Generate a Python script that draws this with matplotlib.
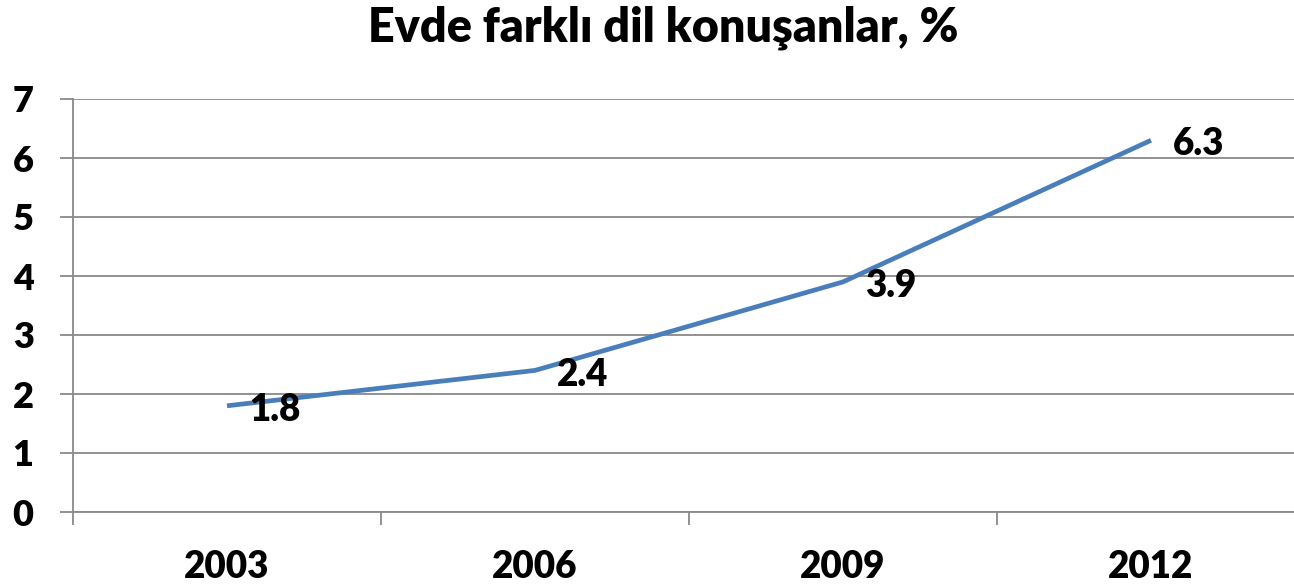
import matplotlib
matplotlib.use("Agg")
import matplotlib.pyplot as plt
from matplotlib.ticker import FixedLocator

years = ["2003", "2006", "2009", "2012"]
values = [1.8, 2.4, 3.9, 6.3]
yticks = [0, 1, 2, 3, 4, 5, 6, 7]
title = "Evde farklı dil konuşanlar, %"

plt.rcParams['font.family'] = ['Lato', 'DejaVu Sans']
WT = "heavy"

W, H = 1294, 585
fig = plt.figure(figsize=(W / 100, H / 100), dpi=100)
ax = fig.add_axes([73 / W, 1 - 512 / H, 1232 / W, 413 / H])

x = list(range(len(years)))
ax.plot(x, values, color="#4A7EBB", lw=3.4, solid_capstyle="butt", zorder=3)

for xi, v in zip(x, values):
    ax.annotate(f"{v}", (xi, v), xytext=(16, -3), textcoords="offset points",
                ha="left", va="center", fontsize=26.5, fontweight=WT, color="black")

ax.set_xlim(-0.5, len(years) - 0.5)
ax.set_ylim(0, 7)
ax.set_yticks(yticks)
ax.set_yticklabels([str(t) for t in yticks])
ax.set_xticks(x)
ax.set_xticklabels(years)
ax.xaxis.set_minor_locator(FixedLocator([i + 0.5 for i in range(-1, len(years))]))

grid_c = "#898989"
ax.grid(axis="y", color=grid_c, lw=1.3)
ax.set_axisbelow(True)
for s in ["top", "right"]:
    ax.spines[s].set_visible(False)
for s in ["left", "bottom"]:
    ax.spines[s].set_color(grid_c)
    ax.spines[s].set_linewidth(1.3)

ax.tick_params(axis="y", which="major", length=9.4, width=1.3, color=grid_c,
               pad=19, labelsize=26)
ax.tick_params(axis="x", which="major", length=0, pad=27, labelsize=26.5)
ax.tick_params(axis="x", which="minor", length=9.4, width=1.3, color=grid_c)
for lab in ax.get_xticklabels() + ax.get_yticklabels():
    lab.set_fontweight(WT)

fig.text(663 / W, 1 - 28 / H, title, ha="center", va="center",
         fontsize=33.6, fontweight=WT)

fig.savefig("out.png", dpi=100)
